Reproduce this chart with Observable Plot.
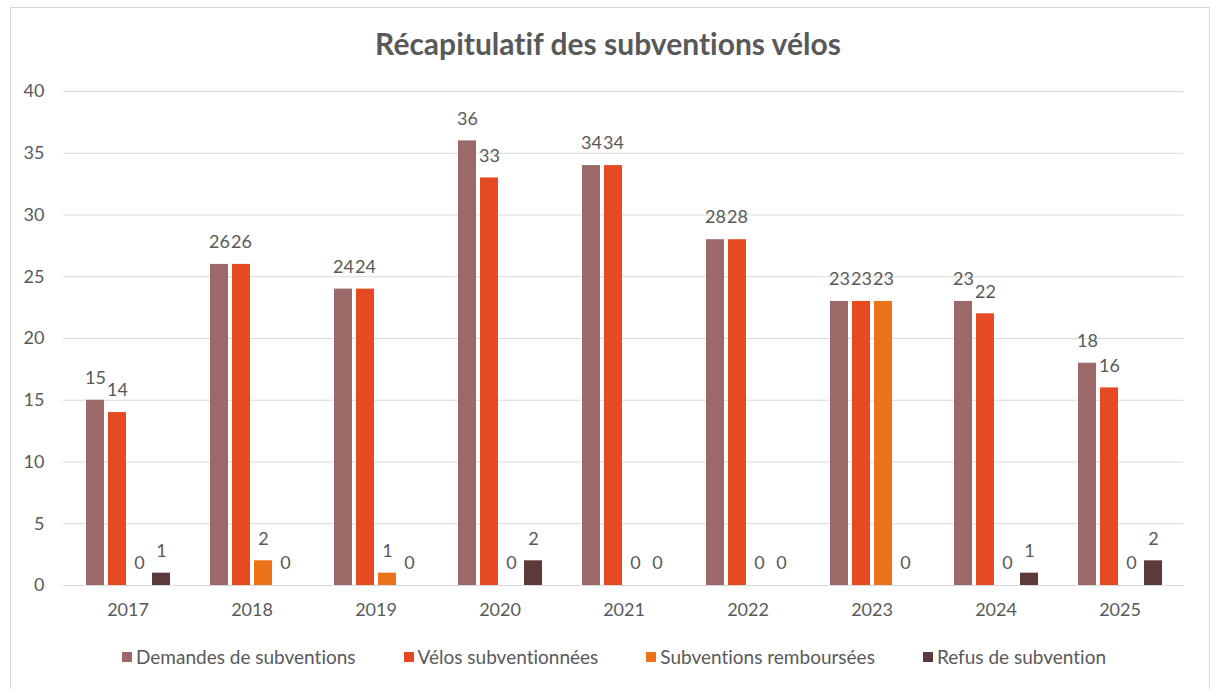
<!DOCTYPE html>
<html>
<head>
<meta charset="utf-8">
<script src="https://cdn.jsdelivr.net/npm/d3@7"></script>
<script src="https://cdn.jsdelivr.net/npm/@observablehq/plot@0.6"></script>
<style>
  html, body { margin: 0; padding: 0; background: #fff; }
  #wrap { position: relative; width: 1216px; height: 689px; overflow: hidden; font-family: Lato, "Open Sans", sans-serif; color: #595959; }
  #border { position: absolute; left: 10px; top: 7px; width: 1200px; height: 720px; border: 1px solid #d9d9d9; box-sizing: border-box; }
  #title { position: absolute; left: 0; top: 28px; width: 1216px; text-align: center; font-size: 30px; font-weight: bold; line-height: 1; color: #595959; font-variant-ligatures: none; }
  #chart { position: absolute; left: 0; top: 70px; width: 1216px; height: 555px; }
  #chart svg { position: absolute; left: 0; top: 0; }
  #legend { position: absolute; left: 0; top: 646px; width: 1228px; display: flex; justify-content: center; gap: 48px; font-size: 19px; line-height: 22px; font-variant-ligatures: none; }
  .item { display: flex; align-items: center; gap: 4px; }
  .sw { width: 10px; height: 10px; display: inline-block; }
</style>
</head>
<body>
<div id="wrap">
  <div id="border"></div>
  <div id="title">Récapitulatif des subventions vélos</div>
  <div id="chart"></div>
  <div id="legend"></div>
</div>
<script>
const years = ["2017", "2018", "2019", "2020", "2021", "2022", "2023", "2024", "2025"];
const seriesNames = ["Demandes de subventions", "Vélos subventionnées", "Subventions remboursées", "Refus de subvention"];
const demandes = [15, 26, 24, 36, 34, 28, 23, 23, 18];
const velos = [14, 26, 24, 33, 34, 28, 23, 22, 16];
const remboursees = [0, 2, 1, 0, 0, 0, 23, 0, 0];
const refus = [1, 0, 0, 2, 0, 0, 0, 1, 2];
const colors = ["#9c6868", "#e64a23", "#ec7319", "#5c3a3a"];
const yTicks = [0, 5, 10, 15, 20, 25, 30, 35, 40];

const seriesValues = [demandes, velos, remboursees, refus];
const data = years.flatMap((yr, i) => seriesNames.map((s, j) => ({year: yr, series: s, value: seriesValues[j][i]})));

const common = {
  width: 1216,
  height: 555,
  marginLeft: 63,
  marginRight: 33,
  marginTop: 21,
  marginBottom: 40,
  style: {fontFamily: "Lato, 'Open Sans', sans-serif", fontSize: "18px", color: "#595959", background: "transparent", overflow: "visible"}
};

// Layer 1: y axis and full-width gridlines
const gridLayer = Plot.plot({
  ...common,
  x: {axis: null},
  y: {domain: [0, 40], ticks: yTicks, tickSize: 0, tickPadding: 19, label: null, tickFormat: d => String(d)},
  marks: [
    Plot.ruleY(yTicks, {stroke: "#d9d9d9", strokeWidth: 1.2})
  ]
});

// Layer 2: grouped bars, value labels and year axis
const barLayer = Plot.plot({
  ...common,
  fx: {domain: years, paddingInner: 0.3, paddingOuter: 0.15, label: null, axis: "bottom", tickSize: 0, tickPadding: 18},
  x: {domain: seriesNames, paddingInner: 0.2, paddingOuter: 0, axis: null},
  y: {domain: [0, 40], axis: null},
  color: {domain: seriesNames, range: colors},
  marks: [
    Plot.barY(data, {fx: "year", x: "series", y: "value", fill: "series"}),
    Plot.text(data, {fx: "year", x: "series", y: "value", text: d => String(d.value), dy: -22, fill: "#595959", fontSize: 18})
  ]
});

const chartDiv = document.getElementById("chart");
chartDiv.appendChild(gridLayer);
chartDiv.appendChild(barLayer);

const legend = document.getElementById("legend");
seriesNames.forEach((s, j) => {
  const it = document.createElement("div");
  it.className = "item";
  const sw = document.createElement("span");
  sw.className = "sw";
  sw.style.background = colors[j];
  const t = document.createElement("span");
  t.textContent = s;
  it.appendChild(sw);
  it.appendChild(t);
  legend.appendChild(it);
});
</script>
</body>
</html>
